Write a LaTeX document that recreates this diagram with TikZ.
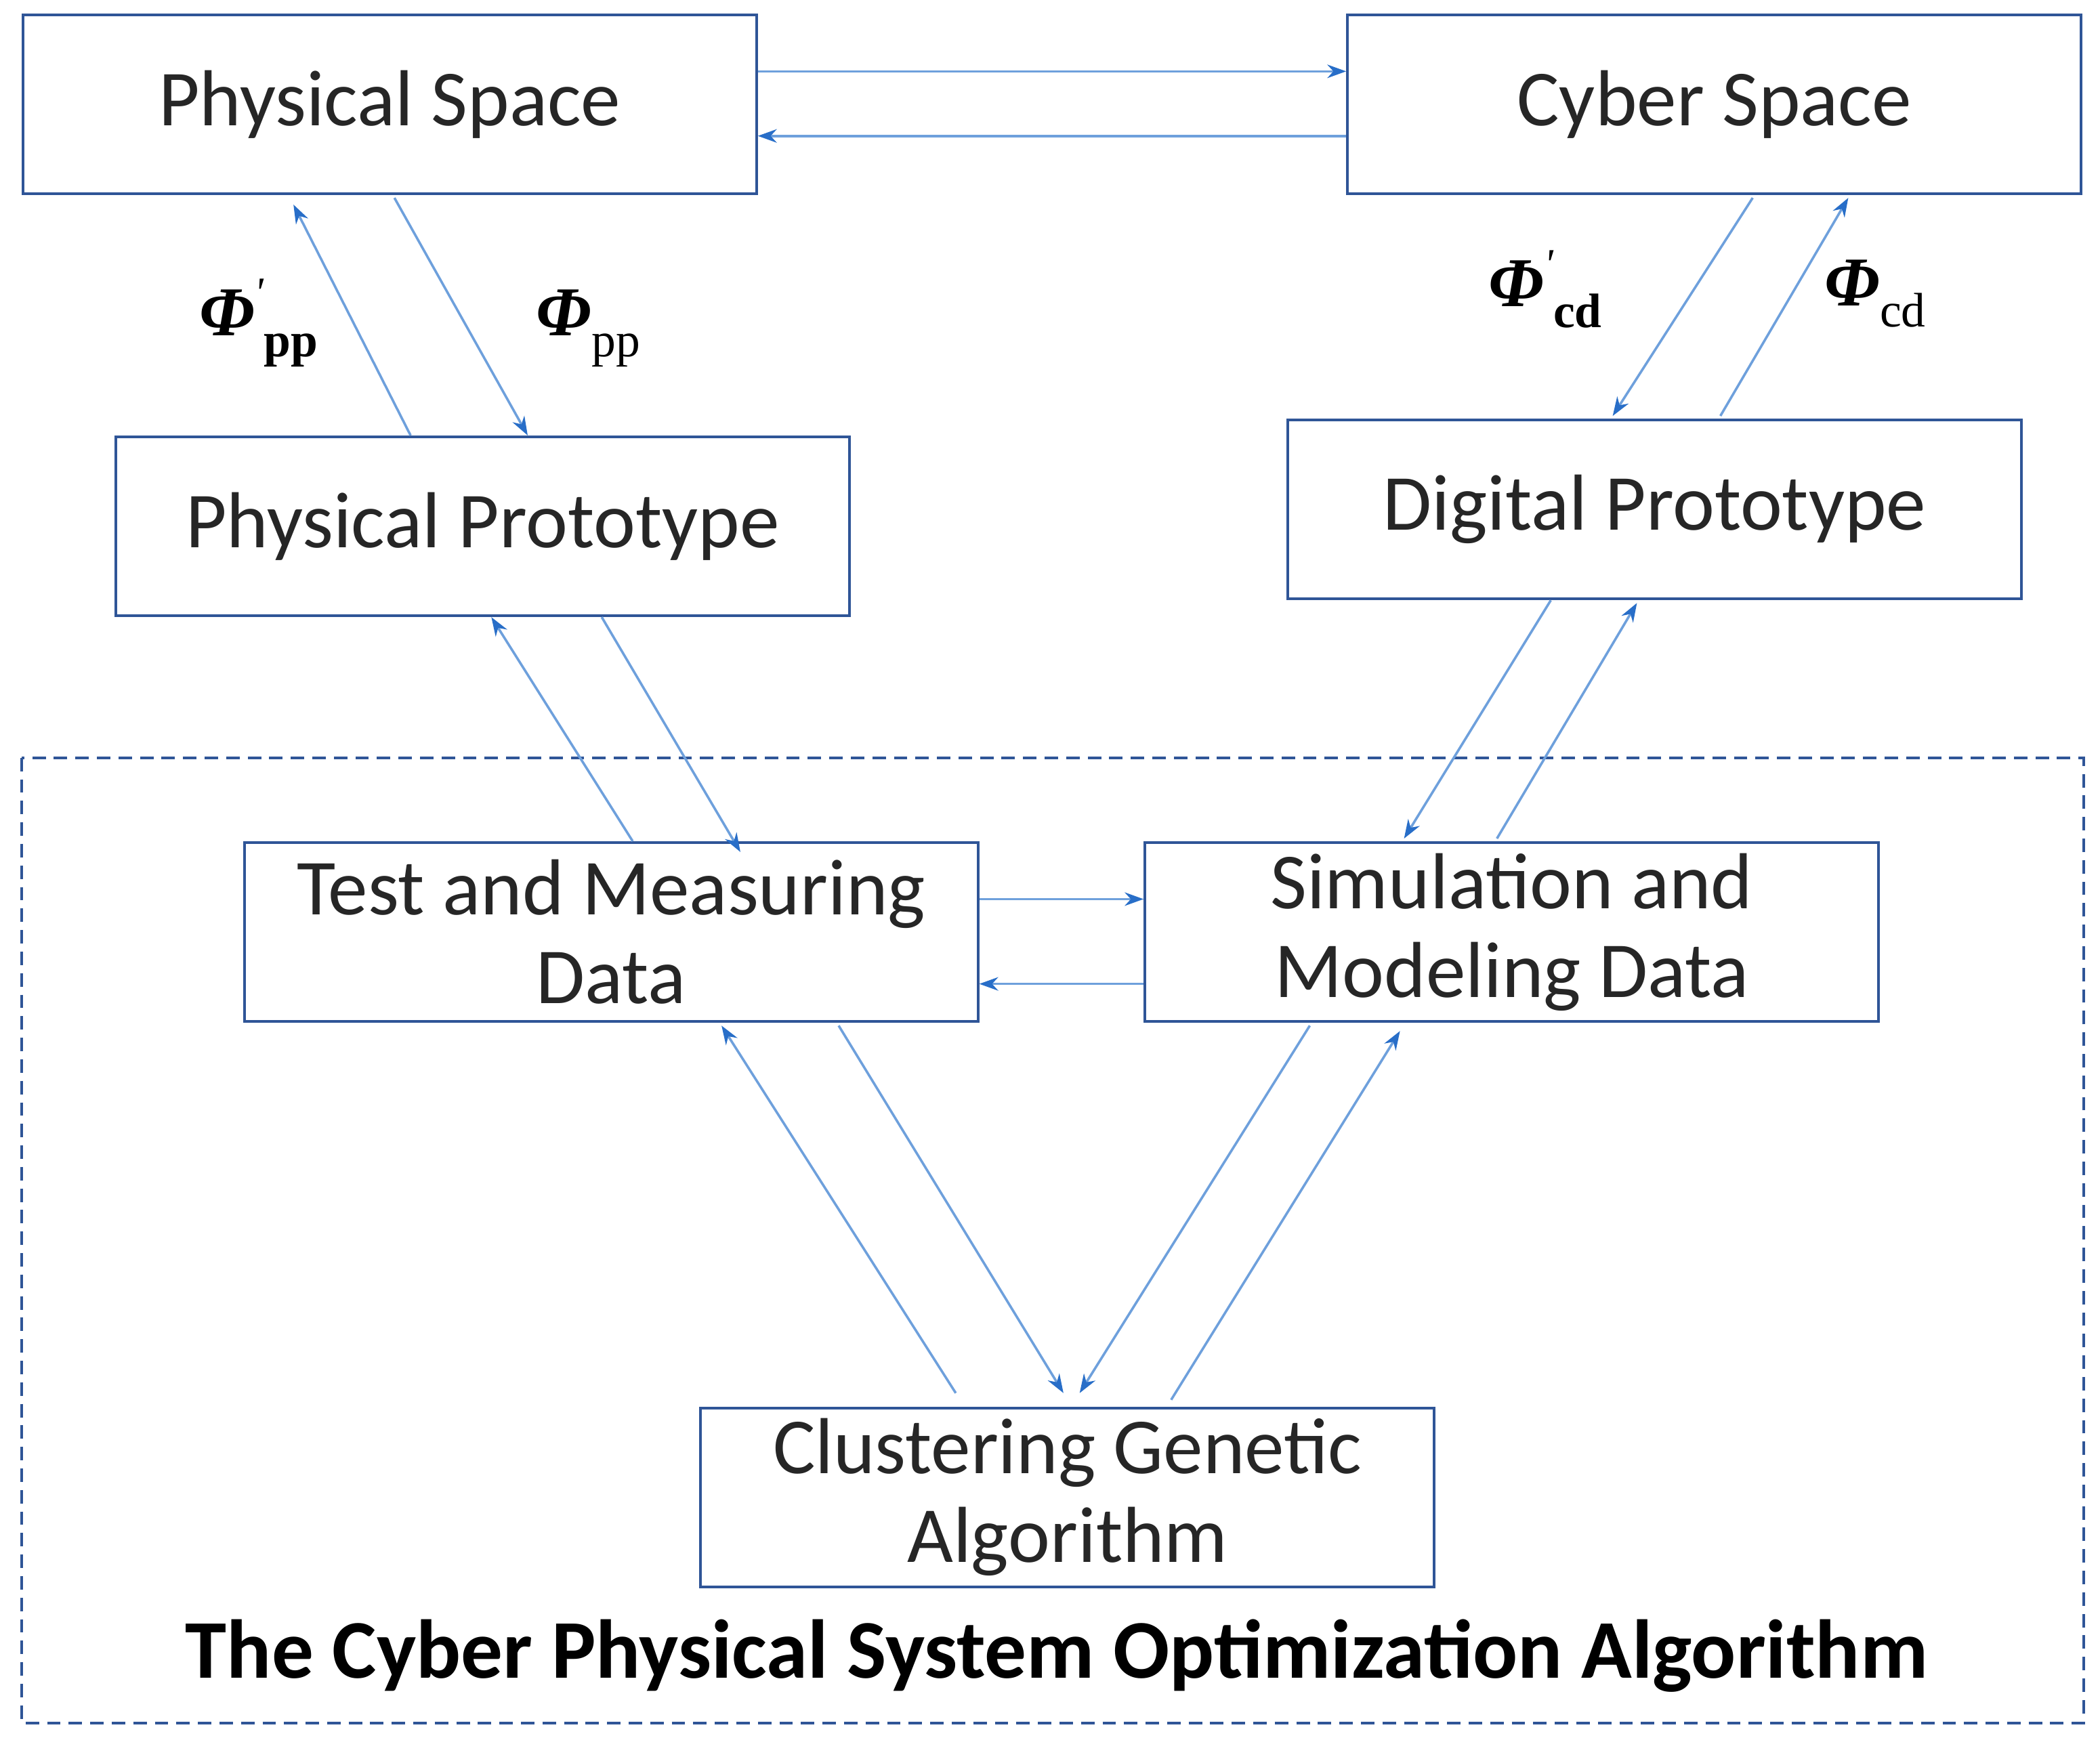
\documentclass[tikz,border=0pt]{standalone}
\usepackage{fontspec}
\setmainfont{Carlito}
\newfontfamily\phifont{Liberation Serif}
\usetikzlibrary{arrows.meta}
\definecolor{boxblue}{RGB}{47,85,151}
\definecolor{arrblue}{RGB}{110,160,220}
\definecolor{tipblue}{RGB}{40,110,200}
\begin{document}
\begin{tikzpicture}[x=0.5pt,y=-0.5pt,
  box/.style={draw=boxblue,line width=1pt,minimum width=272.5pt,minimum height=66.5pt,
    inner sep=0pt,align=center,font=\fontsize{29.5}{33}\selectfont,text=black!85},
  arr/.style={draw=arrblue,line width=0.9pt,-{Stealth[length=7pt,width=5pt,color=tipblue]}},
  lab/.style={font=\phifont\fontsize{26}{30}\selectfont\bfseries\itshape}]
\useasboundingbox (0,0) rectangle (1560,1291);
\draw[boxblue,line width=1pt,dash pattern=on 5pt off 3pt] (16,563) rectangle (1548,1280);
\node[box] (ps) at (289.5,77.5) {Physical Space};
\node[box] (cs) at (1273.5,77.5) {Cyber Space};
\node[box] (pp) at (358.5,391) {Physical Prototype};
\node[box] (dp) at (1229,378.5) {Digital Prototype};
\node[box] (tm) at (454,692.5) {Test and Measuring\\Data};
\node[box] (sm) at (1123,692.5) {Simulation and\\Modeling Data};
\node[box] (cg) at (793,1112.5) {Clustering Genetic\\Algorithm};
\node[font=\fontsize{31}{35}\selectfont\bfseries] (title) at (785,1230) {The Cyber Physical System Optimization Algorithm};
% top pair
\draw[arr] ([shift={(0,-24.5)}]ps.east) -- ([shift={(0,-24.5)}]cs.west);
\draw[arr] ([shift={(0,23.5)}]cs.west) -- ([shift={(0,23.5)}]ps.east);
% physical side
\draw[arr] ([shift={(3.5,2)}]ps.south) -- ([shift={(33.5,0)}]pp.north);
\draw[arr] ([shift={(-53.5,0)}]pp.north) -- ([shift={(-71.5,7)}]ps.south);
\draw[arr] ([shift={(16,0)}]tm.north) -- ([shift={(6.5,0)}]pp.south);
\draw[arr] ([shift={(88.5,0)}]pp.south) -- ([shift={(96,8)}]tm.north);
% cyber side
\draw[arr] ([shift={(28.5,2)}]cs.south) -- ([shift={(-31,-2)}]dp.north);
\draw[arr] ([shift={(49,-2)}]dp.north) -- ([shift={(99.5,2)}]cs.south);
\draw[arr] ([shift={(-77,0)}]dp.south) -- ([shift={(-80,-2)}]sm.north);
\draw[arr] ([shift={(-11,-2)}]sm.north) -- ([shift={(-13,2)}]dp.south);
% middle pair
\draw[arr] ([shift={(0,-24.5)}]tm.east) -- ([shift={(0,-24.5)}]sm.west);
\draw[arr] ([shift={(0,38.5)}]sm.west) -- ([shift={(0,38.5)}]tm.east);
% bottom
\draw[arr] ([shift={(-83,-10)}]cg.north) -- ([shift={(82,2)}]tm.south);
\draw[arr] ([shift={(169,2)}]tm.south) -- ([shift={(-3,-10)}]cg.north);
\draw[arr] ([shift={(-150,2)}]sm.south) -- ([shift={(9,-10)}]cg.north);
\draw[arr] ([shift={(77,-5)}]cg.north) -- ([shift={(-83,6)}]sm.south);
% labels
\node[lab] (l1) at (192,240) {Φ\raisebox{0.4em}{\fontsize{16}{18}\selectfont\mdseries ʹ}\raisebox{-0.3em}{\fontsize{18}{20}\selectfont\upshape pp}};
\node[lab] (l2) at (437,244) {Φ\raisebox{-0.3em}{\fontsize{18}{20}\selectfont\mdseries\upshape pp}};
\node[lab] (l3) at (1148,215) {Φ\raisebox{0.4em}{\fontsize{16}{18}\selectfont\mdseries ʹ}\raisebox{-0.3em}{\fontsize{18}{20}\selectfont\upshape cd}};
\node[lab] (l4) at (1393,218) {Φ\raisebox{-0.3em}{\fontsize{18}{20}\selectfont\mdseries\upshape cd}};
\end{tikzpicture}
\end{document}
